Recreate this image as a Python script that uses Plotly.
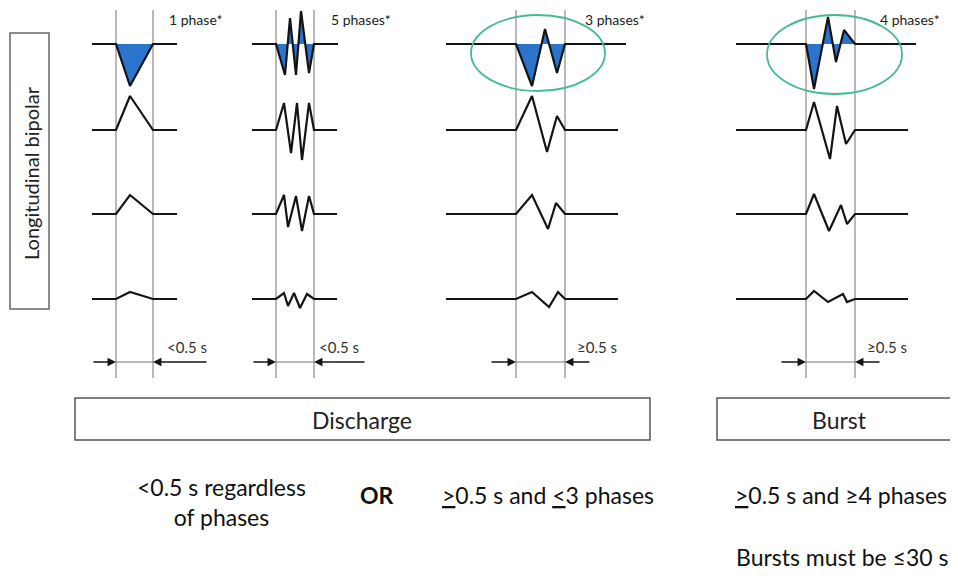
import plotly.graph_objects as go

# ---------------- data ----------------
# waveform vertices per panel and row: time offset inside the window (px) and amplitude (px, + = up)
P1_T = [[0, 14, 37], [0, 14, 37], [0, 14, 37], [0, 14, 37]]
P1_A = [[0, -42, 0], [0, 34, 0], [0, 19, 0], [0, 7, 0]]

P2_T = [[0, 9, 14, 20, 25, 33, 38], [0, 8, 15, 21, 26, 33, 38],
        [0, 8, 12, 20, 26, 33, 38], [0, 8, 12, 18, 24, 31, 38]]
P2_A = [[0, -31, 26, -31, 33, -29, 0], [0, 27, -23, 27, -30, 27, 0],
        [0, 19, -13, 18, -17, 18, 0], [0, 6, -7, 6, -9, 5, 0]]

P3_T = [[0, 16, 29, 41, 49], [0, 16, 31, 41, 49], [0, 16, 32, 40, 49], [0, 16, 33, 42, 49]]
P3_A = [[0, -42, 15, -29, 0], [0, 34, -22, 14, 0], [0, 19, -15, 11, 0], [0, 7, -8, 7, 0]]

P4_T = [[0, 8, 22, 30, 38, 49], [0, 8, 24, 31, 40, 49],
        [0, 8, 23, 35, 41, 49], [0, 8, 22, 37, 41, 49]]
P4_A = [[0, -45, 27, -18, 14, 0], [0, 28, -29, 24, -14, 0],
        [0, 20, -17, 9, -10, 0], [0, 8, -3, 5, -3, 0]]

PHASE_LABELS = ["1 phase*", "5 phases*", "3 phases*", "4 phases*"]
DUR_LABELS = ["&lt;0.5 s", "&lt;0.5 s", "≥0.5 s", "≥0.5 s"]
CATEGORY_LABELS = ["Discharge", "Burst"]
MONTAGE_LABEL = "Longitudinal bipolar"
RULE_TEXTS = ["&lt;0.5 s regardless<br>of phases", "<b>OR</b>",
              "<u>&gt;</u>0.5 s and <u>&lt;</u>3 phases",
              "<u>&gt;</u>0.5 s and ≥4 phases", "Bursts must be ≤30 s"]

# ---------------- layout constants ----------------
W, H = 958, 576
PAGE_PAD = 8  # default body margin of the html page
ROW_Y = [44, 130, 214, 299]
WIN_LEFT = [116, 276, 516, 806]
WIN_RIGHT = [153, 314, 565, 855]
BASE_X0 = [92, 252, 446, 736]
BASE_X1 = [[177, 177, 177, 177], [338, 337, 337, 337], [626, 618, 618, 618], [916, 908, 908, 908]]
ARROW_L = [92, 252, 490, 780]
ARROW_R = [208, 366, 591, 881]
LABEL_X = [167, 329, 583, 878]
DUR_X = [165, 317, 575, 865]
ELLIPSES = [None, None, (471, 15, 605, 91), (767, 15, 902, 94)]

BLUE = "#2b74cc"
INK = "#141414"
GREEN = "#45bb8e"
FONT = "Lato, Open Sans, sans-serif"

panels = [(P1_T, P1_A), (P2_T, P2_A), (P3_T, P3_A), (P4_T, P4_A)]

fig = go.Figure()
shapes = []
ann = []

for p, (TT, AA) in enumerate(panels):
    xl = WIN_LEFT[p]
    for xv in (WIN_LEFT[p], WIN_RIGHT[p]):
        shapes.append(dict(type="line", x0=xv, x1=xv, y0=10, y1=378,
                           line=dict(color="#8a8a8a", width=1.2), layer="below"))
    for r in range(4):
        by = ROW_Y[r]
        xs = [xl + t for t in TT[r]]
        ys = [by - a for a in AA[r]]
        if r == 0:
            fig.add_trace(go.Scatter(x=xs + [xs[0]], y=ys + [ys[0]], mode="lines",
                                     fill="toself", fillcolor=BLUE,
                                     line=dict(width=0, color=BLUE),
                                     hoverinfo="skip", showlegend=False))
        fx = [BASE_X0[p]] + xs + [BASE_X1[p][r]]
        fy = [by] + ys + [by]
        fig.add_trace(go.Scatter(x=fx, y=fy, mode="lines",
                                 line=dict(color=INK, width=2.2),
                                 hoverinfo="skip", showlegend=False))
    ymid = 362
    shapes.append(dict(type="line", x0=WIN_LEFT[p], x1=WIN_RIGHT[p], y0=ymid, y1=ymid,
                       line=dict(color="#777", width=1)))
    ann.append(dict(x=WIN_LEFT[p], y=ymid, ax=ARROW_L[p], ay=ymid, xref="x", yref="y",
                    axref="x", ayref="y", showarrow=True, arrowhead=2, arrowsize=1.3,
                    arrowwidth=1.3, arrowcolor=INK, text=""))
    ann.append(dict(x=WIN_RIGHT[p], y=ymid, ax=ARROW_R[p], ay=ymid, xref="x", yref="y",
                    axref="x", ayref="y", showarrow=True, arrowhead=2, arrowsize=1.3,
                    arrowwidth=1.3, arrowcolor=INK, text=""))
    ann.append(dict(x=DUR_X[p], y=347, xref="x", yref="y", text=DUR_LABELS[p],
                    showarrow=False, xanchor="left", yanchor="middle",
                    font=dict(family=FONT, size=15, color="#333")))
    ann.append(dict(x=LABEL_X[p], y=19, xref="x", yref="y", text=PHASE_LABELS[p],
                    showarrow=False, xanchor="left", yanchor="middle",
                    font=dict(family=FONT, size=14, color="#222")))
    if ELLIPSES[p]:
        x0, y0, x1, y1 = ELLIPSES[p]
        shapes.append(dict(type="circle", x0=x0, x1=x1, y0=y0, y1=y1,
                           line=dict(color=GREEN, width=1.8)))

shapes.append(dict(type="rect", x0=10, x1=49, y0=33, y1=309, line=dict(color="#666", width=1.5)))
shapes.append(dict(type="rect", x0=75, x1=650, y0=398, y1=440, line=dict(color="#555", width=1.5)))
shapes.append(dict(type="rect", x0=717, x1=957, y0=398, y1=440, line=dict(color="#555", width=1.5)))

ann.append(dict(x=31, y=173, xref="x", yref="y", text=MONTAGE_LABEL, textangle=-90,
                showarrow=False, font=dict(family=FONT, size=20, color="#222")))
ann.append(dict(x=362, y=420, xref="x", yref="y", text=CATEGORY_LABELS[0], showarrow=False,
                font=dict(family=FONT, size=23, color="#222")))
ann.append(dict(x=839, y=420, xref="x", yref="y", text=CATEGORY_LABELS[1], showarrow=False,
                font=dict(family=FONT, size=23, color="#222")))

RULE_POS = [(221, 502), (377, 495), (548, 495), (841, 495), (842, 557)]
for txt, (x, y) in zip(RULE_TEXTS, RULE_POS):
    ann.append(dict(x=x, y=y, xref="x", yref="y", text=txt, showarrow=False,
                    font=dict(family=FONT, size=23, color="#111")))

fig.update_layout(
    width=W - PAGE_PAD, height=H - PAGE_PAD, margin=dict(l=0, r=0, t=0, b=0),
    paper_bgcolor="white", plot_bgcolor="white",
    xaxis=dict(range=[PAGE_PAD, W], visible=False, fixedrange=True),
    yaxis=dict(range=[H, PAGE_PAD], visible=False, fixedrange=True),
    shapes=shapes, annotations=ann, showlegend=False,
)

fig.write_html("out.html")
